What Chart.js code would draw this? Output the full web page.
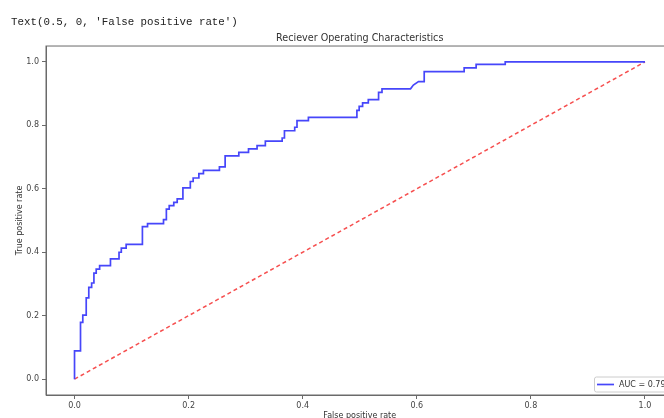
<!DOCTYPE html>
<html>
<head>
<meta charset="utf-8">
<script src="https://cdn.jsdelivr.net/npm/chart.js@4"></script>
<style>
  html, body { margin: 0; padding: 0; background: #fff; overflow: hidden; }
  #wrap { position: relative; width: 664px; height: 418px; overflow: hidden; }
  #plot { position: absolute; left: 0; top: 0; width: 690px; height: 430px; }
  #out {
    position: absolute; left: 11px; top: 15px; z-index: 2;
    font-family: "Liberation Mono", "DejaVu Sans Mono", monospace;
    font-size: 10.8px; line-height: 14px; color: #222; white-space: pre;
  }
</style>
</head>
<body>
<div id="wrap">
  <div id="plot"><canvas id="roc" width="690" height="430"></canvas></div>
  <div id="out">Text(0.5, 0, 'False positive rate')</div>
</div>
<script>
// ROC curve corners
const fpr = [0, 0, 0.0105, 0.0105, 0.0145, 0.0145, 0.0205, 0.0205, 0.025, 0.025,
  0.030, 0.030, 0.034, 0.034, 0.038, 0.038, 0.044, 0.044, 0.063, 0.063,
  0.078, 0.078, 0.082, 0.082, 0.0905, 0.0905, 0.119, 0.119, 0.128, 0.128,
  0.156, 0.156, 0.161, 0.161, 0.166, 0.166, 0.174, 0.174, 0.180, 0.180,
  0.190, 0.190, 0.203, 0.203, 0.208, 0.208, 0.218, 0.218, 0.226, 0.226,
  0.254, 0.254, 0.264, 0.264, 0.288, 0.288, 0.305, 0.305, 0.320, 0.320,
  0.3345, 0.3345, 0.364, 0.364, 0.368, 0.368, 0.386, 0.386, 0.390, 0.390,
  0.410, 0.410, 0.495, 0.495, 0.499, 0.499, 0.505, 0.505, 0.515, 0.515,
  0.533, 0.533, 0.539, 0.539, 0.589, 0.594, 0.603, 0.613, 0.613, 0.683,
  0.683, 0.704, 0.704, 0.755, 0.755, 1.0];
const tpr = [0, 0.089, 0.089, 0.179, 0.179, 0.202, 0.202, 0.256, 0.256, 0.289,
  0.289, 0.303, 0.303, 0.334, 0.334, 0.347, 0.347, 0.358, 0.358, 0.379,
  0.379, 0.400, 0.400, 0.413, 0.413, 0.425, 0.425, 0.481, 0.481, 0.490,
  0.490, 0.503, 0.503, 0.536, 0.536, 0.547, 0.547, 0.557, 0.557, 0.568,
  0.568, 0.603, 0.603, 0.623, 0.623, 0.634, 0.634, 0.648, 0.648, 0.658,
  0.658, 0.669, 0.669, 0.704, 0.704, 0.715, 0.715, 0.726, 0.726, 0.736,
  0.736, 0.750, 0.750, 0.760, 0.760, 0.783, 0.783, 0.794, 0.794, 0.815,
  0.815, 0.825, 0.825, 0.847, 0.847, 0.860, 0.860, 0.871, 0.871, 0.881,
  0.881, 0.904, 0.904, 0.915, 0.915, 0.927, 0.938, 0.938, 0.969, 0.969,
  0.981, 0.981, 0.992, 0.992, 1.0, 1.0];
const diagX = [0, 1];
const diagY = [0, 1];
const xTicks = [0, 0.2, 0.4, 0.6, 0.8, 1.0];
const yTicks = [0, 0.2, 0.4, 0.6, 0.8, 1.0];
const aucLabel = 'AUC = 0.79';

const tickFont = { family: 'DejaVu Sans', size: 8 };
const axisGrey = '#6a6a6a';

// top/right spines
const frame = {
  id: 'frame',
  afterDraw(chart) {
    const { ctx, chartArea: a } = chart;
    ctx.save();
    ctx.strokeStyle = axisGrey;
    ctx.lineWidth = 1;
    ctx.strokeRect(a.left, a.top, a.right - a.left, a.bottom - a.top);
    ctx.restore();
  }
};

// matplotlib style legend in lower right
const mplLegend = {
  id: 'mplLegend',
  afterDraw(chart) {
    const { ctx, chartArea: a } = chart;
    ctx.save();
    ctx.font = '8px "DejaVu Sans"';
    const tw = ctx.measureText(aucLabel).width;
    const w = 3 + 17 + 5 + tw + 4;
    const h = 15;
    const right = a.right - 4;
    const bottom = a.bottom - 3.5;
    const left = right - w;
    const top = bottom - h;
    ctx.fillStyle = 'rgba(255,255,255,0.8)';
    ctx.strokeStyle = '#cccccc';
    ctx.lineWidth = 1;
    ctx.beginPath();
    ctx.roundRect(left + 0.5, top + 0.5, w, h, 2);
    ctx.fill();
    ctx.stroke();
    const cy = top + h / 2 + 0.5;
    ctx.strokeStyle = 'rgb(70,70,250)';
    ctx.lineWidth = 1.7;
    ctx.beginPath();
    ctx.moveTo(left + 3, cy);
    ctx.lineTo(left + 20, cy);
    ctx.stroke();
    ctx.fillStyle = '#333';
    ctx.textBaseline = 'middle';
    ctx.fillText(aucLabel, left + 25, cy);
    ctx.restore();
  }
};

new Chart(document.getElementById('roc').getContext('2d'), {
  type: 'line',
  data: {
    datasets: [{
      label: aucLabel,
      data: fpr.map((x, i) => ({ x, y: tpr[i] })),
      borderColor: 'rgb(70,70,250)',
      borderWidth: 1.7,
      pointRadius: 0,
      tension: 0,
      fill: false
    }, {
      label: 'chance',
      data: diagX.map((x, i) => ({ x, y: diagY[i] })),
      borderColor: 'rgba(245,60,60,0.9)',
      borderWidth: 1.5,
      borderDash: [4, 3],
      pointRadius: 0,
      tension: 0,
      fill: false
    }]
  },
  options: {
    responsive: false,
    animation: false,
    devicePixelRatio: 1,
    layout: { padding: { left: 0, right: 16.5, top: 0, bottom: 0 } },
    scales: {
      x: {
        type: 'linear',
        min: -0.05,
        max: 1.05,
        afterBuildTicks: axis => { axis.ticks = xTicks.map(v => ({ value: v })); },
        afterFit: axis => { axis.height = 35; },
        ticks: {
          callback: v => v.toFixed(1),
          font: tickFont,
          color: '#444',
          padding: 2,
          maxRotation: 0
        },
        grid: { drawOnChartArea: false, drawTicks: true, tickLength: 4, color: axisGrey },
        border: { display: true, color: axisGrey, width: 1 },
        title: {
          display: true,
          text: 'False positive rate',
          font: tickFont,
          color: '#333',
          padding: { top: 0, bottom: 9 }
        }
      },
      y: {
        type: 'linear',
        min: -0.05,
        max: 1.05,
        afterBuildTicks: axis => { axis.ticks = yTicks.map(v => ({ value: v })); },
        afterFit: axis => { axis.width = 46; },
        ticks: {
          callback: v => v.toFixed(1),
          font: tickFont,
          color: '#444',
          padding: 3
        },
        grid: { drawOnChartArea: false, drawTicks: true, tickLength: 4, color: axisGrey },
        border: { display: true, color: axisGrey, width: 1 },
        title: {
          display: true,
          text: 'True positive rate',
          font: tickFont,
          color: '#333',
          padding: { top: 15, bottom: 0 }
        }
      }
    },
    plugins: {
      legend: { display: false },
      tooltip: { enabled: false },
      title: {
        display: true,
        text: 'Reciever Operating Characteristics',
        fullSize: false,
        font: { family: 'DejaVu Sans', size: 9.6, weight: 'normal' },
        color: '#333',
        padding: { top: 33.2, bottom: 1.3 }
      }
    }
  },
  plugins: [frame, mplLegend]
});
</script>
</body>
</html>
